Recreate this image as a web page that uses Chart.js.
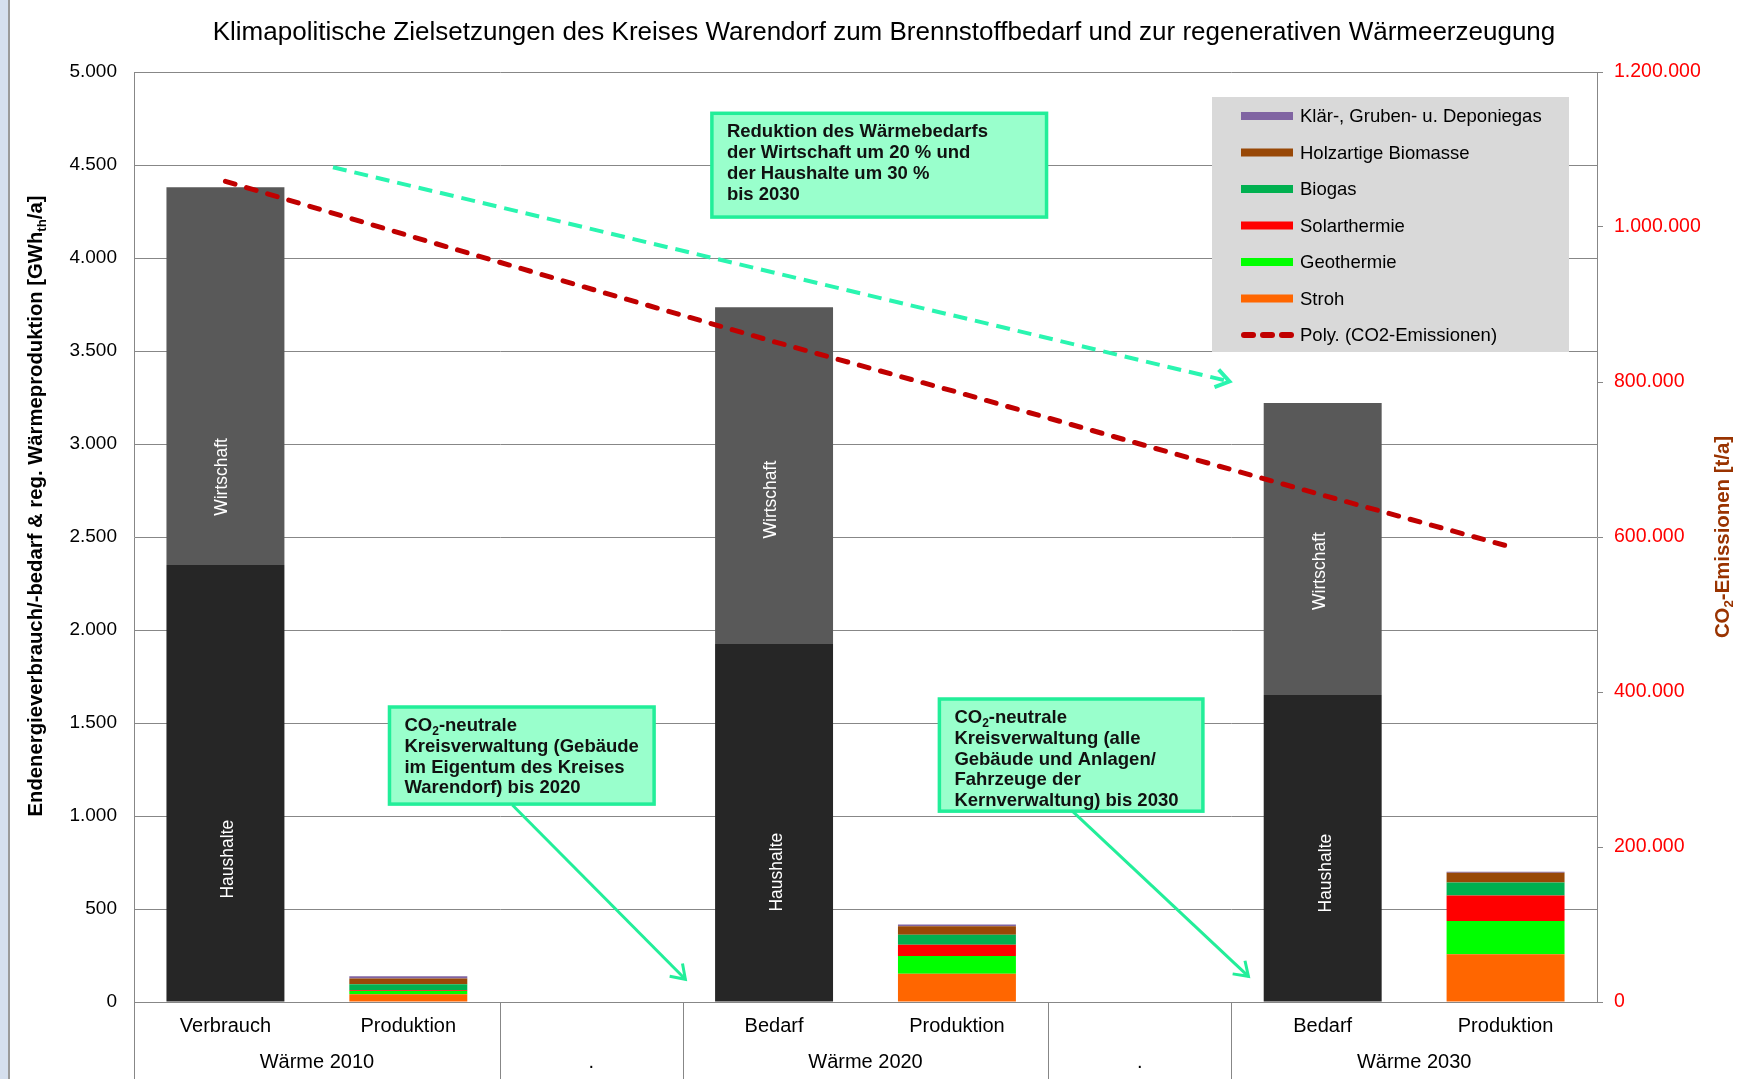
<!DOCTYPE html>
<html lang="de">
<head>
<meta charset="utf-8">
<title>Klimapolitische Zielsetzungen Kreis Warendorf</title>
<script src="https://cdn.jsdelivr.net/npm/chart.js@4.4.1/dist/chart.umd.min.js"></script>
<style>
  html, body { margin: 0; padding: 0; background: #fff; }
  #wrap { width: 1749px; height: 1079px; }
</style>
</head>
<body>
<div id="wrap"><canvas id="chart" width="1749" height="1079"></canvas></div>
<script>
// --- Daten ---
const categories = ['Verbrauch', 'Produktion', '', 'Bedarf', 'Produktion', '', 'Bedarf', 'Produktion'];
const groups = ['Wärme 2010', '.', 'Wärme 2020', '.', 'Wärme 2030'];

const haushalte    = [2350, null, null, 1925, null, null, 1650, null];
const wirtschaft   = [2030, null, null, 1810, null, null, 1570, null];
const stroh        = [null, 41, null, null, 152, null, null, 257];
const geothermie   = [null, 18, null, null, 95, null, null, 178];
const solarthermie = [null, 4, null, null, 61, null, null, 138];
const biogas       = [null, 32, null, null, 54, null, null, 70];
const holz         = [null, 32, null, null, 45, null, null, 52];
const klaergas     = [null, 11, null, null, 9, null, null, 5];
const co2Trend     = [1059000, 989000, 920000, 852000, 787000, 720000, 654000, 589000];

const yTicks  = [0, 500, 1000, 1500, 2000, 2500, 3000, 3500, 4000, 4500, 5000];
const y2Ticks = [0, 200000, 400000, 600000, 800000, 1000000, 1200000];

const FAMILY = "'Liberation Sans', Arial, sans-serif";
const font = (size, weight) => (weight || 'normal') + ' ' + size + 'px ' + FAMILY;
const fmt = v => String(v).replace(/\B(?=(\d{3})+(?!\d))/g, '.');

const GRID = '#878787';
const MINT = '#99ffcc';
const MINT_LINE = '#22ee99';

// rich text with subscripts, y = middle
function richWidth(ctx, parts, size, weight) {
  let w = 0;
  parts.forEach(p => {
    ctx.font = font(p.sub ? size * 0.65 : size, weight);
    w += ctx.measureText(p.t).width;
  });
  return w;
}
function drawRich(ctx, parts, x, y, size, weight, align) {
  let cx = align === 'center' ? x - richWidth(ctx, parts, size, weight) / 2 : x;
  ctx.textAlign = 'left';
  ctx.textBaseline = 'middle';
  parts.forEach(p => {
    const s = p.sub ? size * 0.65 : size;
    ctx.font = font(s, weight);
    ctx.fillText(p.t, cx, y + (p.sub ? size * 0.3 : 0));
    cx += ctx.measureText(p.t).width;
  });
}
function arrowHead(ctx, x0, y0, x1, y1, len) {
  const a = Math.atan2(y1 - y0, x1 - x0);
  ctx.beginPath();
  ctx.moveTo(x1 - len * Math.cos(a - 0.6), y1 - len * Math.sin(a - 0.6));
  ctx.lineTo(x1, y1);
  ctx.lineTo(x1 - len * Math.cos(a + 0.6), y1 - len * Math.sin(a + 0.6));
  ctx.stroke();
}

// annotations (in category index / GWh units)
const notes = [
  { x0: 2.66, x1: 4.49, y0: 4778, y1: 4220, lines: [
    [{ t: 'Reduktion des Wärmebedarfs' }],
    [{ t: 'der Wirtschaft um 20 % und' }],
    [{ t: 'der Haushalte um 30 %' }],
    [{ t: 'bis 2030' }]] },
  { x0: 0.897, x1: 2.344, y0: 1586, y1: 1064, lines: [
    [{ t: 'CO' }, { t: '2', sub: true }, { t: '-neutrale' }],
    [{ t: 'Kreisverwaltung (Gebäude' }],
    [{ t: 'im Eigentum des Kreises' }],
    [{ t: 'Warendorf) bis 2020' }]] },
  { x0: 3.904, x1: 5.345, y0: 1629, y1: 1026, lines: [
    [{ t: 'CO' }, { t: '2', sub: true }, { t: '-neutrale' }],
    [{ t: 'Kreisverwaltung (alle' }],
    [{ t: 'Gebäude und Anlagen/' }],
    [{ t: 'Fahrzeuge der' }],
    [{ t: 'Kernverwaltung) bis 2030' }]] }
];
const arrows = [
  { from: [0.588, 4488], to: [5.49, 3336], dashed: true },
  { from: [1.569, 1059], to: [2.515, 122] },
  { from: [4.631, 1026], to: [5.594, 138] }
];
const barLabels = [
  { i: 0, v: 768, t: 'Haushalte', dx: 3 }, { i: 3, v: 698, t: 'Haushalte', dx: 3 }, { i: 6, v: 693, t: 'Haushalte', dx: 3 },
  { i: 0, v: 2823, t: 'Wirtschaft', dx: -3 }, { i: 3, v: 2701, t: 'Wirtschaft', dx: -3 }, { i: 6, v: 2317, t: 'Wirtschaft', dx: -3 }
];

const decor = {
  id: 'decor',
  beforeDraw(chart) {
    const ctx = chart.ctx;
    ctx.save();
    ctx.fillStyle = '#fff';
    ctx.fillRect(0, 0, chart.width, chart.height);
    ctx.fillStyle = '#d5dfee';
    ctx.fillRect(0, 0, 8, chart.height);
    ctx.fillStyle = '#9a9a9a';
    ctx.fillRect(8, 0, 2, chart.height);
    ctx.restore();
  },
  afterDatasetsDraw(chart) {
    const ctx = chart.ctx;
    const x = chart.scales.x, y = chart.scales.y;
    const area = chart.chartArea;
    ctx.save();

    // labels inside the demand bars
    ctx.fillStyle = '#fff';
    barLabels.forEach(l => {
      ctx.save();
      ctx.translate(x.getPixelForValue(l.i) + l.dx, y.getPixelForValue(l.v));
      ctx.rotate(-Math.PI / 2);
      ctx.font = font(17.5);
      ctx.textAlign = 'center';
      ctx.textBaseline = 'middle';
      ctx.fillText(l.t, 0, 0);
      ctx.restore();
    });

    // arrows
    arrows.forEach(a => {
      const x0 = x.getPixelForValue(a.from[0]), y0 = y.getPixelForValue(a.from[1]);
      const x1 = x.getPixelForValue(a.to[0]), y1 = y.getPixelForValue(a.to[1]);
      ctx.strokeStyle = a.dashed ? '#2af5b0' : MINT_LINE;
      ctx.lineWidth = a.dashed ? 4 : 3;
      ctx.setLineDash(a.dashed ? [14, 8] : []);
      ctx.beginPath();
      ctx.moveTo(x0, y0);
      ctx.lineTo(x1, y1);
      ctx.stroke();
      ctx.setLineDash([]);
      arrowHead(ctx, x0, y0, x1, y1, 16);
    });

    // text boxes
    notes.forEach(n => {
      const bx = x.getPixelForValue(n.x0), by = y.getPixelForValue(n.y0);
      const bw = x.getPixelForValue(n.x1) - bx, bh = y.getPixelForValue(n.y1) - by;
      ctx.fillStyle = MINT;
      ctx.fillRect(bx, by, bw, bh);
      ctx.strokeStyle = MINT_LINE;
      ctx.lineWidth = 3.5;
      ctx.strokeRect(bx, by, bw, bh);
      ctx.fillStyle = '#111';
      n.lines.forEach((parts, k) => drawRich(ctx, parts, bx + 15, by + 19 + k * 20.8, 18.5, 'bold'));
    });

    // legend
    const lx = area.right - 28 - 357, ly = area.top + 25;
    ctx.fillStyle = '#d9d9d9';
    ctx.fillRect(lx, ly, 357, 255);
    const items = chart.data.datasets.filter(d => d.inLegend).slice().reverse();
    items.push(chart.data.datasets[0]);
    items.forEach((d, k) => {
      const cy = ly + 19 + k * 36.5;
      if (d.type === 'line') {
        ctx.strokeStyle = d.borderColor;
        ctx.lineWidth = 6;
        ctx.lineCap = 'round';
        [0, 1, 2].forEach(j => {
          ctx.beginPath();
          ctx.moveTo(lx + 32 + j * 19, cy);
          ctx.lineTo(lx + 41 + j * 19, cy);
          ctx.stroke();
        });
        ctx.lineCap = 'butt';
      } else {
        ctx.fillStyle = d.backgroundColor;
        ctx.fillRect(lx + 29, cy - 4, 52, 8);
      }
      ctx.fillStyle = '#000';
      ctx.font = font(18.5);
      ctx.textAlign = 'left';
      ctx.textBaseline = 'middle';
      ctx.fillText(d.label, lx + 88, cy + 1);
    });
    ctx.restore();
  },
  afterDraw(chart) {
    const ctx = chart.ctx;
    const x = chart.scales.x;
    const area = chart.chartArea;
    ctx.save();

    // title
    ctx.fillStyle = '#000';
    ctx.font = font(26);
    ctx.textAlign = 'center';
    ctx.textBaseline = 'middle';
    ctx.fillText('Klimapolitische Zielsetzungen des Kreises Warendorf zum Brennstoffbedarf und zur regenerativen Wärmeerzeugung', 884, 33);

    // category separators below the axis
    ctx.strokeStyle = GRID;
    ctx.lineWidth = 1;
    [-0.5, 1.5, 2.5, 4.5, 5.5].forEach(b => {
      const px = Math.round(x.getPixelForValue(b)) + 0.5;
      ctx.beginPath();
      ctx.moveTo(px, area.bottom);
      ctx.lineTo(px, chart.height);
      ctx.stroke();
    });

    // group labels
    ctx.fillStyle = '#000';
    ctx.font = font(20);
    ctx.textAlign = 'center';
    ctx.textBaseline = 'middle';
    [0.5, 2, 3.5, 5, 6.5].forEach((c, k) => ctx.fillText(groups[k], x.getPixelForValue(c), 1062));

    // axis titles
    ctx.save();
    ctx.translate(36, 506);
    ctx.rotate(-Math.PI / 2);
    ctx.fillStyle = '#000';
    drawRich(ctx, [
      { t: 'Endenergieverbrauch/-bedarf & reg. Wärmeproduktion [GWh' },
      { t: 'th', sub: true },
      { t: '/a]' }], 0, 0, 20.3, 'bold', 'center');
    ctx.restore();

    ctx.save();
    ctx.translate(1723, 537);
    ctx.rotate(-Math.PI / 2);
    ctx.fillStyle = '#993300';
    drawRich(ctx, [{ t: 'CO' }, { t: '2', sub: true }, { t: '-Emissionen [t/a]' }], 0, 0, 20.4, 'bold', 'center');
    ctx.restore();

    ctx.restore();
  }
};

const bar = (label, data, color, inLegend) => ({
  type: 'bar', label: label, data: data, backgroundColor: color, yAxisID: 'y', inLegend: inLegend
});

new Chart(document.getElementById('chart'), {
  data: {
    labels: categories,
    datasets: [
      {
        type: 'line', label: 'Poly. (CO2-Emissionen)', data: co2Trend, yAxisID: 'y2',
        borderColor: '#c00000', borderWidth: 5, borderDash: [10, 12], borderCapStyle: 'round',
        pointRadius: 0, tension: 0, fill: false
      },
      bar('Haushalte', haushalte, '#262626', false),
      bar('Wirtschaft', wirtschaft, '#595959', false),
      bar('Stroh', stroh, '#ff6600', true),
      bar('Geothermie', geothermie, '#00ff00', true),
      bar('Solarthermie', solarthermie, '#ff0000', true),
      bar('Biogas', biogas, '#00b050', true),
      bar('Holzartige Biomasse', holz, '#984807', true),
      bar('Klär-, Gruben- u. Deponiegas', klaergas, '#8064a2', true)
    ]
  },
  options: {
    responsive: false,
    animation: false,
    devicePixelRatio: 1,
    layout: { padding: { top: 72, left: 0, right: 0, bottom: 0 } },
    datasets: { bar: { barPercentage: 0.645, categoryPercentage: 1 } },
    plugins: {
      legend: { display: false },
      title: { display: false },
      tooltip: { enabled: false }
    },
    scales: {
      x: {
        stacked: true,
        grid: { display: false, drawTicks: false },
        border: { display: true, color: GRID },
        ticks: { color: '#000', font: { family: FAMILY, size: 20 }, padding: 12, maxRotation: 0, autoSkip: false },
        afterFit(s) { s.height = 77; }
      },
      y: {
        position: 'left',
        stacked: true,
        min: 0, max: 5000,
        afterBuildTicks(s) { s.ticks = yTicks.map(v => ({ value: v })); },
        grid: { color: GRID, drawTicks: false },
        border: { display: true, color: GRID },
        ticks: { color: '#000', font: { family: FAMILY, size: 19 }, padding: 17, callback: v => fmt(v) },
        afterFit(s) { s.width = 134; }
      },
      y2: {
        position: 'right',
        min: 0, max: 1200000,
        afterBuildTicks(s) { s.ticks = y2Ticks.map(v => ({ value: v })); },
        grid: { drawOnChartArea: false, drawTicks: true, tickLength: 6, color: GRID },
        border: { display: true, color: GRID },
        ticks: { color: '#ff0000', font: { family: FAMILY, size: 19.5 }, padding: 11, callback: v => fmt(v) },
        afterFit(s) { s.width = 152; }
      }
    }
  },
  plugins: [decor]
});
</script>
</body>
</html>
